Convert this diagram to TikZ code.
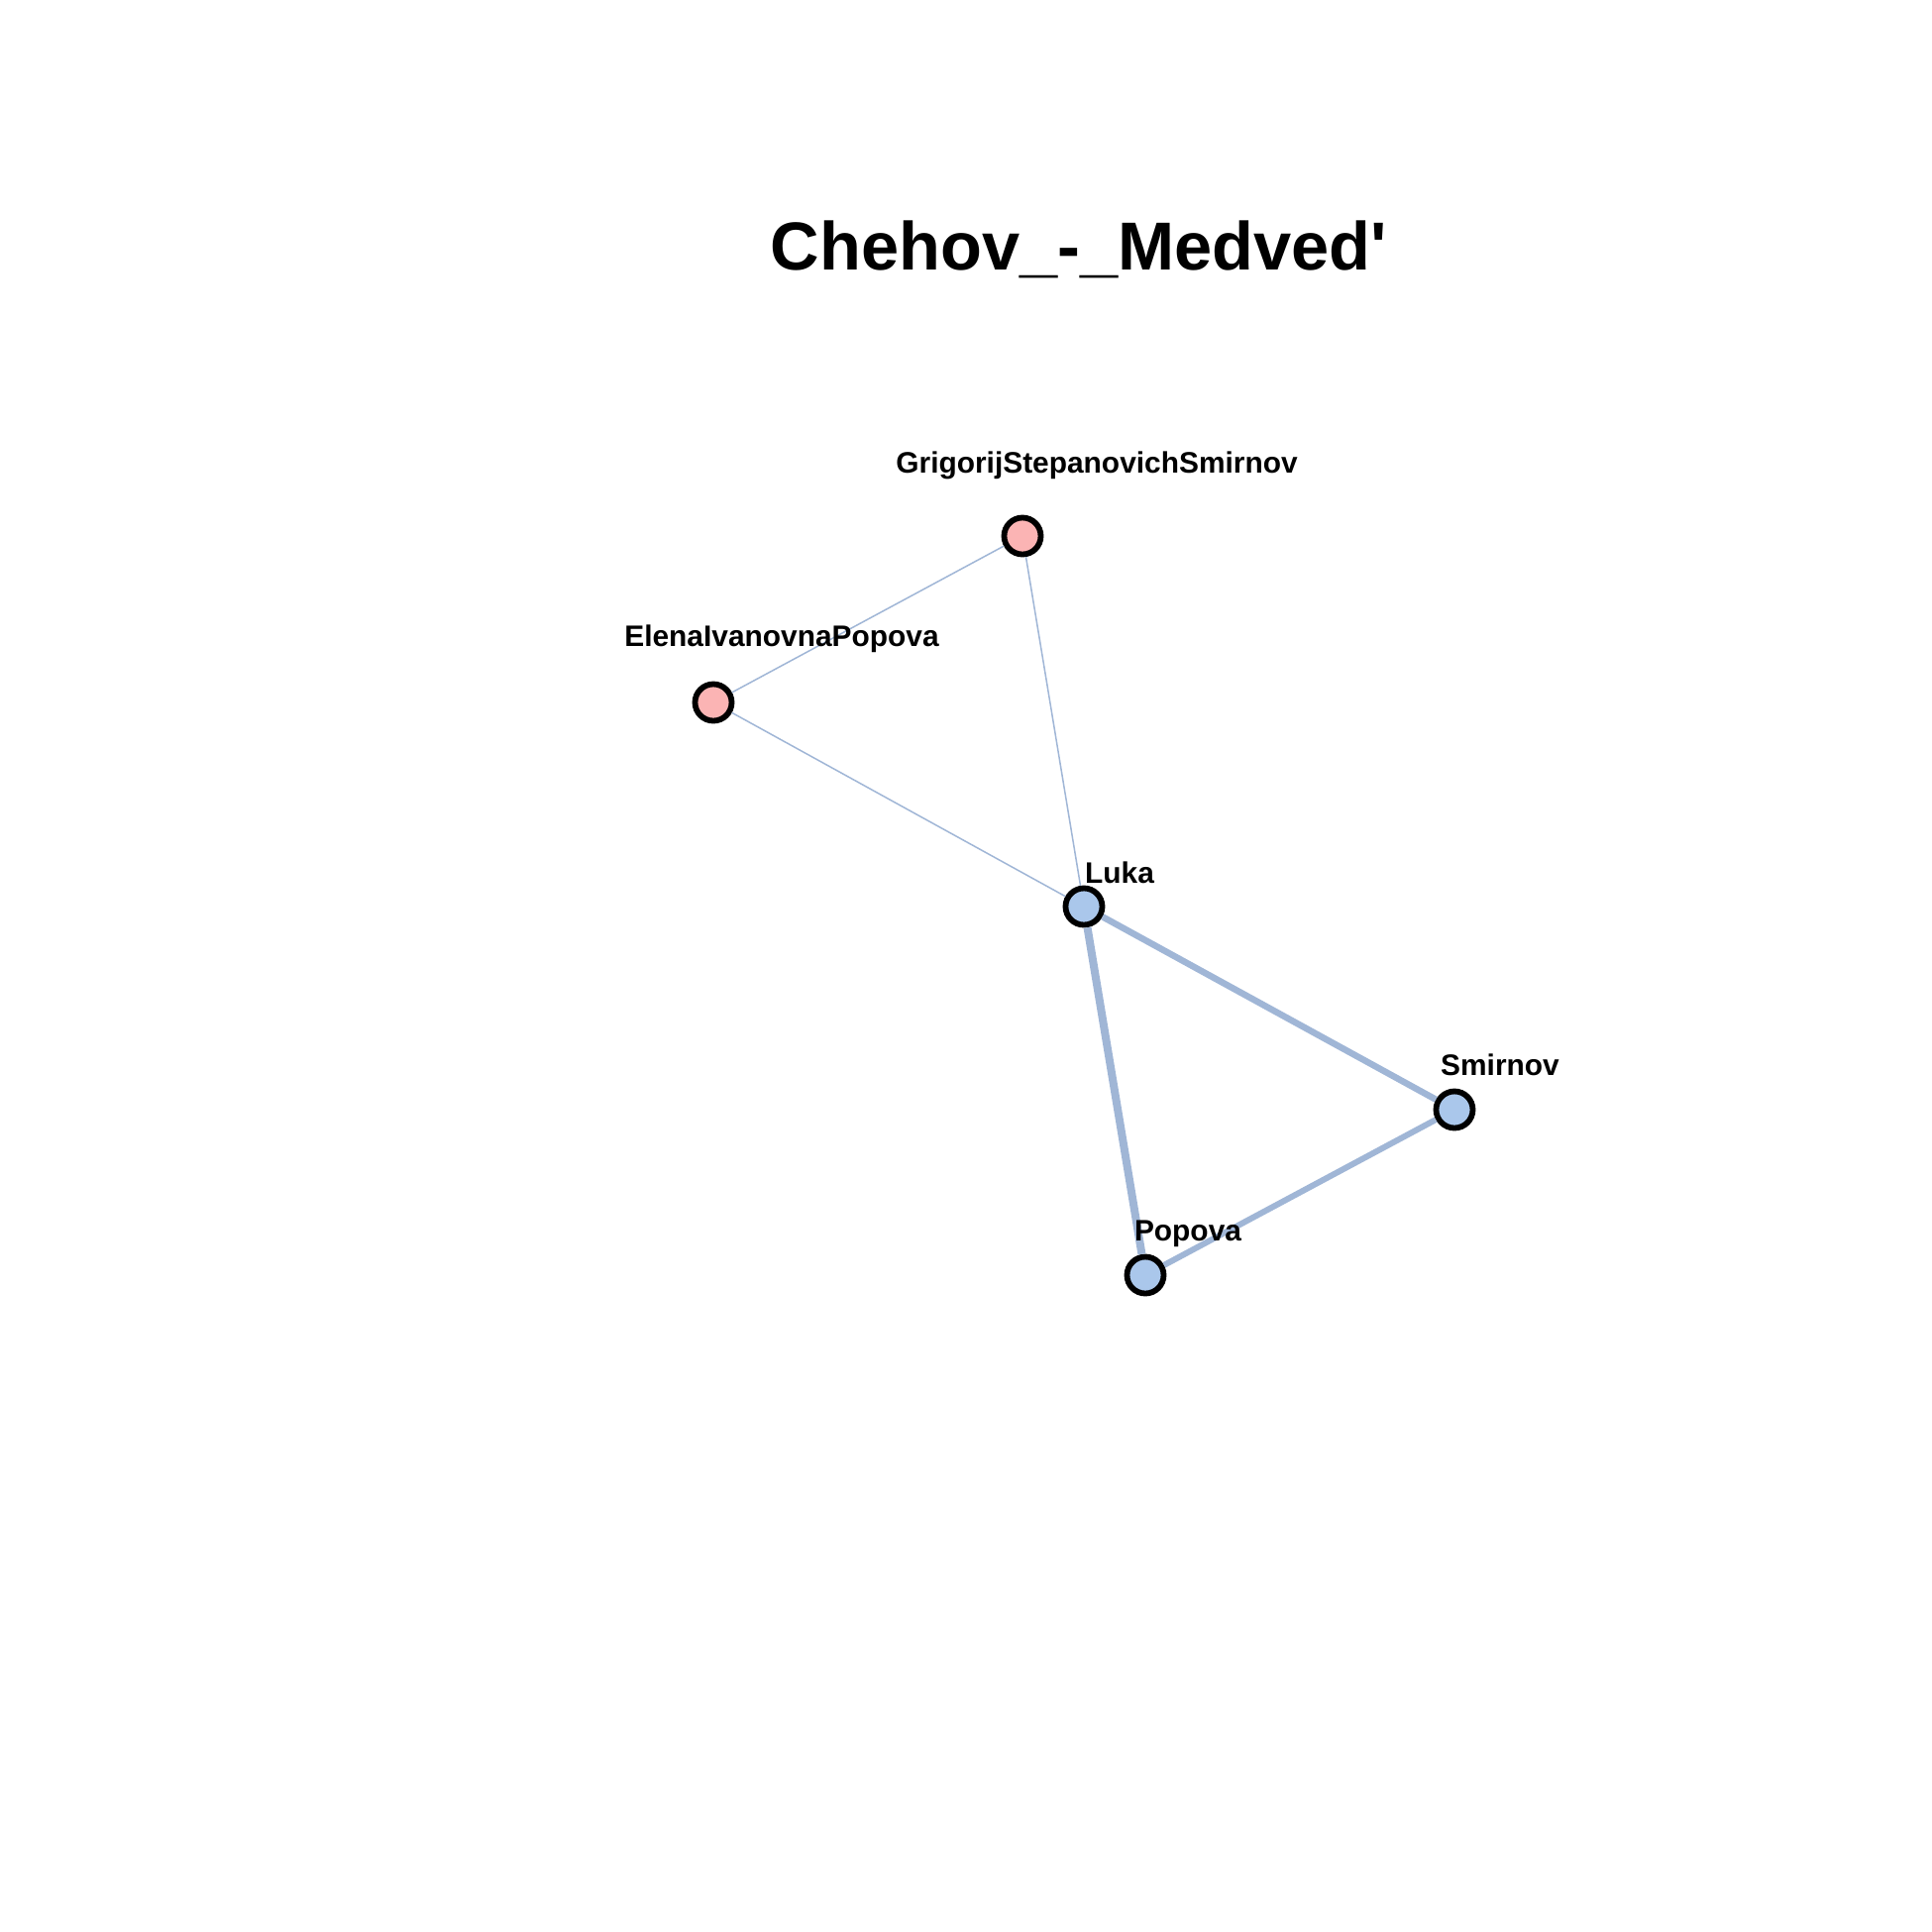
\documentclass[tikz,border=0pt]{standalone}
\usepackage{fontspec}
\setmainfont{Liberation Sans}
\usepackage{tikz}
\usetikzlibrary{arrows,shapes}
\definecolor{edgeblue}{RGB}{160,182,214}
\definecolor{castblue}{RGB}{170,199,235}
\definecolor{castpink}{RGB}{251,180,180}
\tikzstyle{vertex}=[circle,draw=black,line width=0.058cm,minimum size=0.37cm,inner sep=0pt]
\tikzstyle{edge} = [draw,edgeblue,line width=0.015cm,-]
\tikzstyle{castlabel} = [font=\bfseries\fontsize{8.5}{10}\selectfont,anchor=base,inner sep=0pt]

\begin{document}
\begin{tikzpicture}[x=0.01cm,y=-0.01cm]
        \useasboundingbox (0,0) rectangle (1950,1950);
        \node[font=\bfseries\fontsize{19.5}{23}\selectfont,anchor=base,inner sep=0pt] (title) at (1089,272) {Chehov\_-\_Medved\textquotesingle};
        \node[vertex,fill=castpink] (grig) at (1032,541) {};
        \node[vertex,fill=castpink] (elena) at (720,709) {};
        \node[vertex,fill=castblue] (luka) at (1094,915) {};
        \node[vertex,fill=castblue] (smir) at (1468,1120) {};
        \node[vertex,fill=castblue] (pop) at (1156,1287) {};
        \draw[edge] (grig) to (elena);
        \draw[edge] (grig) to (luka);
        \draw[edge] (elena) to (luka);
        \draw[edge,line width=0.065cm] (luka) to (smir);
        \draw[edge,line width=0.08cm] (luka) to (pop);
        \draw[edge,line width=0.06cm] (pop) to (smir);
        \node[castlabel] (lgrig) at (1107,477) {GrigorijStepanovichSmirnov};
        \node[castlabel] (lelena) at (789,652) {ElenaIvanovnaPopova};
        \node[castlabel] (lluka) at (1130,891) {Luka};
        \node[castlabel] (lsmir) at (1514,1085) {Smirnov};
        \node[castlabel] (lpop) at (1199,1252) {Popova};
      \end{tikzpicture}
\end{document}
